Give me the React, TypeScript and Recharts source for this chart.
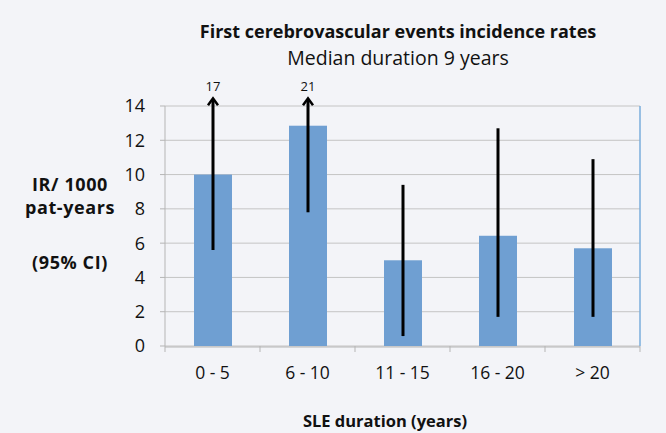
import { ComposedChart, Bar, Line, XAxis, YAxis, CartesianGrid } from "recharts";

const categories = ["0 - 5", "6 - 10", "11 - 15", "16 - 20", "> 20"];
const rates = [10, 12.85, 5.0, 6.43, 5.7];
const ciLow = [5.6, 7.8, 0.58, 1.7, 1.7];
// upper CI: values above the axis are drawn as arrows with the real value as label
const ciHigh = [17, 21, 9.4, 12.7, 10.9];
const arrowTop = 14.45;
const yTicks = [0, 2, 4, 6, 8, 10, 12, 14];
const boundaryTicks = [0, 1, 2, 3, 4, 5];

const data = categories.map((name, i) => ({
  name,
  pos: i + 0.5,
  rate: rates[i],
  low: ciLow[i],
  high: ciHigh[i],
}));

const FONT = "'Open Sans', sans-serif";

function BarWithCI(props: any) {
  const { x, y, width, height, payload, value } = props;
  const v = Array.isArray(value) ? value[1] : value;
  const base = y + height;
  const perUnit = height / v;
  const yOf = (n: number) => base - n * perUnit;
  const cx = x + width / 2;
  const capped = payload.high > arrowTop;
  const topY = yOf(capped ? arrowTop : payload.high);
  const lowY = yOf(payload.low);
  return (
    <g>
      <rect x={x} y={y} width={width} height={height} fill="#6f9fd2" />
      <line x1={cx} x2={cx} y1={lowY} y2={capped ? topY + 1 : topY} stroke="#000" strokeWidth={3} />
      {capped && (
        <>
          <polyline
            points={`${cx - 5},${topY + 7} ${cx},${topY} ${cx + 5},${topY + 7}`}
            fill="none"
            stroke="#000"
            strokeWidth={2.5}
          />
          <text x={cx} y={topY - 7} textAnchor="middle" fontSize={13} fontFamily={FONT} fill="#111">
            {payload.high}
          </text>
        </>
      )}
    </g>
  );
}

export default function App() {
  return (
    <div
      style={{
        position: "absolute",
        left: 0,
        top: 0,
        width: 666,
        height: 433,
        background: "#f3f4f8",
        fontFamily: FONT,
        overflow: "hidden",
      }}
    >
      <div style={{ position: "absolute", left: 0, width: 796, top: 19, textAlign: "center", fontSize: 18, fontWeight: 700, color: "#111" }}>
        First cerebrovascular events incidence rates
      </div>
      <div style={{ position: "absolute", left: 0, width: 796, top: 44, textAlign: "center", fontSize: 19.5, color: "#111" }}>
        Median duration 9 years
      </div>
      <div style={{ position: "absolute", left: 14, width: 112, top: 173, textAlign: "center", fontSize: 18, fontWeight: 700, letterSpacing: 0.6, color: "#111", lineHeight: "23px" }}>
        IR/ 1000
        <br />
        pat-years
      </div>
      <div style={{ position: "absolute", left: 14, width: 112, top: 250, textAlign: "center", fontSize: 18, fontWeight: 700, letterSpacing: 0.6, color: "#111" }}>
        (95% CI)
      </div>
      <div style={{ position: "absolute", left: 0, width: 770, top: 409, textAlign: "center", fontSize: 16.5, fontWeight: 700, color: "#111" }}>
        SLE duration (years)
      </div>
      <ComposedChart
        width={666}
        height={433}
        data={data}
        margin={{ top: 106, right: 25, bottom: 56, left: 125 }}
        style={{ position: "absolute", left: 0, top: 0 }}
      >
        <CartesianGrid xAxisId="cat" vertical={false} stroke="#c4c4c4" />
        <XAxis
          xAxisId="bounds"
          dataKey="pos"
          type="number"
          domain={[0, 5]}
          ticks={boundaryTicks}
          tick={{ fill: "transparent", fontSize: 1 }}
          axisLine={false}
          tickLine={{ stroke: "#b5b5b5" }}
          tickSize={6}
          height={1}
        />
        <XAxis
          xAxisId="cat"
          dataKey="name"
          height={30}
          tickLine={false}
          axisLine={{ stroke: "#b5b5b5" }}
          tick={{ fontSize: 17.5, fill: "#111", fontFamily: FONT }}
          tickMargin={14}
        />
        <YAxis
          domain={[0, 14]}
          ticks={yTicks}
          width={40}
          axisLine={{ stroke: "#b5b5b5" }}
          tickLine={{ stroke: "#b5b5b5" }}
          tickSize={5}
          tickMargin={15}
          tick={{ fontSize: 18, fill: "#111", fontFamily: FONT }}
        />
        <YAxis
          yAxisId="right"
          orientation="right"
          domain={[0, 14]}
          ticks={yTicks}
          width={1}
          tick={{ fill: "transparent", fontSize: 1 }}
          tickLine={false}
          axisLine={{ stroke: "#7aaedc", strokeWidth: 1.5 }}
        />
        <Bar xAxisId="cat" dataKey="rate" barSize={38} shape={<BarWithCI />} isAnimationActive={false} />
        <Line
          xAxisId="bounds"
          yAxisId="right"
          dataKey="rate"
          stroke="none"
          dot={false}
          activeDot={false}
          legendType="none"
          isAnimationActive={false}
        />
      </ComposedChart>
    </div>
  );
}
